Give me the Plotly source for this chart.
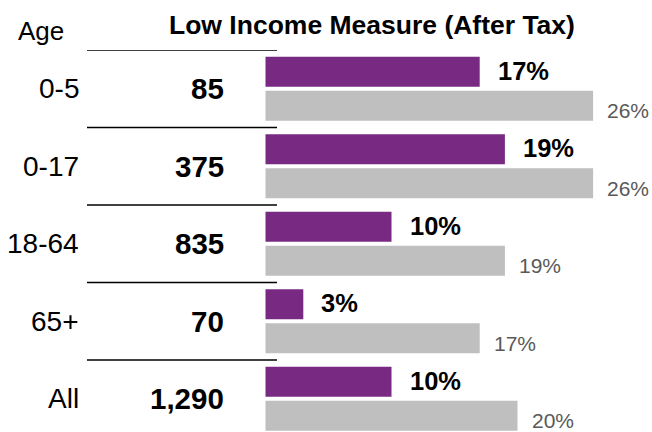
import plotly.graph_objects as go

# ---- data ----
ages = ["0-5", "0-17", "18-64", "65+", "All"]
counts = [85, 375, 835, 70, 1290]
lim_group = [17, 19, 10, 3, 10]        # purple bars (bold labels)
lim_compare = [26, 26, 19, 17, 20]     # gray bars
title_text = "Low Income Measure (After Tax)"
age_header = "Age"

FONT = "Liberation Sans, Arial, sans-serif"
PURPLE = "#782A82"
GRAY = "#BFBFBF"

W, H = 652, 432
px_per_pct = 12.6
bar_x0 = 265.5
x_range = [-bar_x0 / px_per_pct, (W - bar_x0) / px_per_pct]

top = 50
pitch = 77.5
plot_h = H - top
span = plot_h / pitch
y_range = [span - 0.5, -0.5]

fig = go.Figure()
fig.add_trace(go.Bar(y=ages, x=lim_group, orientation="h",
                     marker=dict(color=PURPLE, line=dict(width=0)),
                     hoverinfo="skip", name="group"))
fig.add_trace(go.Bar(y=ages, x=lim_compare, orientation="h",
                     marker=dict(color=GRAY, line=dict(width=0)),
                     hoverinfo="skip", name="compare"))

annotations = []
shapes = []
for i, a in enumerate(ages):
    annotations.append(dict(x=81 / W, xref="paper", y=a, yref="y", text=a,
                            xanchor="right", yanchor="middle", showarrow=False,
                            font=dict(family=FONT, size=28, color="#000000")))
    annotations.append(dict(x=226 / W, xref="paper", y=a, yref="y",
                            text="<b>{:,}</b>".format(counts[i]),
                            xanchor="right", yanchor="middle", showarrow=False,
                            font=dict(family=FONT, size=29.5, color="#000000")))
    annotations.append(dict(x=lim_group[i], xref="x", y=a, yref="y",
                            text="<b>{}%</b>".format(lim_group[i]),
                            xanchor="left", yanchor="middle", showarrow=False,
                            xshift=16, yshift=18,
                            font=dict(family=FONT, size=25.5, color="#000000")))
    annotations.append(dict(x=lim_compare[i], xref="x", y=a, yref="y",
                            text="{}%".format(lim_compare[i]),
                            xanchor="left", yanchor="middle", showarrow=False,
                            xshift=12, yshift=-22,
                            font=dict(family=FONT, size=21, color="#595959")))
    shapes.append(dict(type="line", xref="paper", yref="y",
                       x0=87 / W, x1=277 / W, y0=i - 0.5, y1=i - 0.5,
                       line=dict(color="#000000", width=1.5)))

annotations.append(dict(x=40.5 / W, xref="paper", y=1 + (top - 31) / plot_h, yref="paper",
                        text=age_header, xanchor="center", yanchor="middle",
                        showarrow=False,
                        font=dict(family=FONT, size=26, color="#000000")))
annotations.append(dict(x=371.5 / W, xref="paper", y=1 + (top - 25) / plot_h, yref="paper",
                        text="<b>" + title_text + "</b>", xanchor="center",
                        yanchor="middle", showarrow=False,
                        font=dict(family=FONT, size=26.5, color="#000000")))

fig.update_layout(
    width=W, height=H,
    margin=dict(l=0, r=0, t=top, b=0),
    paper_bgcolor="white", plot_bgcolor="white",
    barmode="group", bargap=0.123, bargroupgap=0.118,
    showlegend=False,
    xaxis=dict(range=x_range, visible=False, fixedrange=True),
    yaxis=dict(type="category", categoryorder="array", categoryarray=ages,
               range=y_range, visible=False, fixedrange=True),
    annotations=annotations, shapes=shapes,
)
fig.write_html("out.html", config={"displayModeBar": False},
               post_script="document.body.style.margin='0';document.body.style.overflow='hidden';")
